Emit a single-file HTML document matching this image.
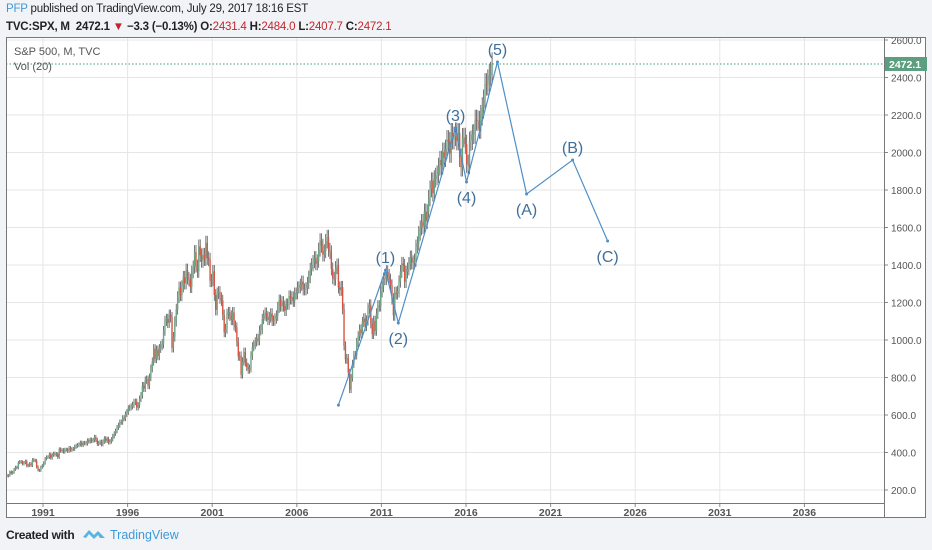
<!DOCTYPE html>
<html><head><meta charset="utf-8">
<style>
body{margin:0;width:932px;height:550px;background:#f1f3f7;font-family:"Liberation Sans",sans-serif;overflow:hidden;position:relative}
.t{position:absolute;white-space:nowrap}
</style></head><body>
<div class="t" style="left:6px;top:3px;font-size:11.5px;letter-spacing:-0.2px;color:#222"><span style="color:#3d9ad8">PFP</span> published on TradingView.com, July 29, 2017 18:16 EST</div>
<div class="t" style="left:6px;top:21px;font-size:11.5px;letter-spacing:-0.2px;color:#222;font-weight:bold">TVC:SPX, M&nbsp; 2472.1 <span style="color:#c0262b">▼</span> −3.3 (−0.13%) O:<span style="color:#c0262b;font-weight:normal">2431.4</span> H:<span style="color:#c0262b;font-weight:normal">2484.0</span> L:<span style="color:#c0262b;font-weight:normal">2407.7</span> C:<span style="color:#c0262b;font-weight:normal">2472.1</span></div>
<svg id="c" width="932" height="550" style="position:absolute;left:0;top:0"></svg>
<div class="t" style="left:6px;top:528px;font-size:12px;letter-spacing:-0.3px;font-weight:bold;color:#222">Created with</div>
<svg style="position:absolute;left:82px;top:527px" width="24" height="14"><path d="M1 10 L7 3 L12 8 L16 4 L23 11 L18 11 L16 8 L12 12 L7 7 L4 11Z" fill="#5ab4e0"/></svg>
<div class="t" style="left:110px;top:528px;font-size:12.5px;color:#3d9ad8">TradingView</div>
<script>
const closes=[279,274,278,
297,289,295,310,321,318,346,351,349,340,346,353,
329,332,340,331,361,358,356,323,306,304,322,330,
344,367,375,375,390,371,387,395,388,392,375,417,
409,413,404,415,415,408,424,414,418,419,431,436,
439,443,452,440,450,451,448,464,459,468,462,466,
482,467,446,451,457,444,458,475,463,472,454,459,
470,487,501,515,533,545,562,562,584,582,605,616,
636,640,646,654,669,671,640,652,687,705,757,741,
786,791,757,801,848,885,954,899,947,915,955,970,
980,1049,1102,1112,1091,1134,1121,957,1017,1099,1164,1229,
1280,1238,1286,1335,1302,1373,1329,1320,1283,1363,1389,1469,
1394,1366,1499,1452,1421,1455,1431,1518,1437,1429,1315,1320,
1366,1240,1160,1249,1256,1224,1211,1134,1041,1060,1139,1148,
1130,1107,1147,1077,1067,990,912,916,815,886,936,880,
856,841,848,917,964,975,990,1008,996,1051,1058,1112,
1131,1145,1126,1107,1121,1141,1102,1104,1115,1130,1174,1212,
1181,1204,1181,1157,1192,1191,1234,1220,1229,1207,1249,1248,
1280,1281,1295,1311,1270,1270,1277,1304,1336,1378,1401,1418,
1438,1407,1421,1482,1531,1503,1455,1474,1527,1549,1481,1468,
1379,1331,1323,1386,1400,1280,1267,1283,1166,969,896,903,
826,735,798,873,919,919,987,1021,1057,1036,1096,1115,
1074,1104,1169,1187,1089,1031,1102,1049,1141,1183,1181,1258,
1286,1327,1326,1364,1345,1321,1292,1219,1131,1253,1247,1258,
1312,1366,1408,1398,1310,1362,1379,1407,1441,1412,1416,1426,
1498,1515,1569,1598,1631,1606,1686,1633,1682,1757,1806,1848,
1783,1859,1872,1884,1924,1960,1931,2003,1972,2018,2068,2059,
1995,2105,2068,2086,2107,2063,2104,1972,1920,2079,2080,2044,
1940,1932,2060,2065,2097,2099,2174,2171,2168,2126,2199,2239,
2279,2364,2363,2384,2412,2423,2472];
const startYear=1988+9/12;
const waveLabels=["","(1)","(2)","(3)","(4)","(5)","(A)","(B)","(C)"];
const waveYears=[2008.46,2011.24,2012.0,2015.38,2016.03,2017.86,2019.58,2022.3,2024.37];
const wavePrices=[653,1373,1091,2131,1843,2483,1779,1960,1528];
const waveLabelPos=["","above","below","above","below","above","below","above","below"];
const yTicks=[200,400,600,800,1000,1200,1400,1600,1800,2000,2200,2400,2600];
const xTicks=[1991,1996,2001,2006,2011,2016,2021,2026,2031,2036];
const lastPrice=2472.1;

const X=y=>43+(y-1991)*16.92;
const Y=p=>490-(p-200)*0.1875;
const svg=document.getElementById('c');
const NS='http://www.w3.org/2000/svg';
function mk(tag,attrs,parent){const e=document.createElementNS(NS,tag);for(const k in attrs)e.setAttribute(k,attrs[k]);(parent||svg).appendChild(e);return e;}

const bg=mk('rect',{x:6,y:37,width:920,height:481,fill:'#fff'});


const clip=mk('clipPath',{id:'cl'});mk('rect',{x:6,y:37,width:878,height:466},clip);
const g=mk('g',{'clip-path':'url(#cl)'});


yTicks.forEach(v=>{
  const l=mk('line',{x1:6,x2:884,y1:Y(v),y2:Y(v),stroke:'#e6e6e6'},g);
  
  
  const tk=mk('line',{x1:884,x2:888,y1:Y(v),y2:Y(v),stroke:'#888'});
  
  
  const t=mk('text',{x:891,y:Y(v)+4,'font-size':10,fill:'#555'});t.textContent=v.toFixed(1);
  
  
});
xTicks.forEach(v=>{
  const l=mk('line',{x1:X(v),x2:X(v),y1:37,y2:503,stroke:'#e6e6e6'},g);
  
  
  const tk=mk('line',{x1:X(v),x2:X(v),y1:503,y2:507,stroke:'#888'});
  
  
  const t=mk('text',{x:X(v),y:516,'font-size':10.5,fill:'#555','text-anchor':'middle','font-weight':'bold'});t.textContent=v;
  
  
});
let prev=closes[0]*0.99;
closes.forEach((c,i)=>{
  const o=prev;prev=c;
  const yr=startYear+(i+0.5)/12;const x=X(yr);
  const hi=Math.max(o,c)*1.025,lo=Math.min(o,c)*0.975;
  const w=mk('line',{x1:x,x2:x,y1:Y(hi),y2:Y(lo),stroke:'#555','stroke-width':0.8},g);
  
  
  const top=Y(Math.max(o,c)),bot=Y(Math.min(o,c));
  const b=mk('rect',{x:x-0.7,y:top,width:1.4,height:Math.max(bot-top,0.6),fill:c>=o?'#6ba583':'#d75442'},g);
  
  
});
const pl=mk('line',{x1:6,x2:884,y1:Y(lastPrice),y2:Y(lastPrice),stroke:'#4a9a7a','stroke-dasharray':'1.5,2','stroke-width':1},g);


const pts=waveYears.map((y,i)=>[X(y),Y(wavePrices[i])]);
const wl=mk('polyline',{points:pts.map(p=>p.join(',')).join(' '),fill:'none',stroke:'#4f8fc9','stroke-width':1.2},g);


pts.forEach((p,i)=>{
  const d=mk('circle',{cx:p[0],cy:p[1],r:1.5,fill:'#4f8fc9'},g);
  
  
  if(!waveLabels[i])return;
  const t=mk('text',{x:p[0],y:waveLabelPos[i]=='above'?p[1]-7:p[1]+21,'font-size':16,fill:'#3f6f9a','text-anchor':'middle'},g);
  t.textContent=waveLabels[i];
  
  
});
const frame=mk('rect',{x:6.5,y:37.5,width:919,height:480,fill:'none',stroke:'#777'});


const ya=mk('line',{x1:884.5,x2:884.5,y1:37,y2:518,stroke:'#777'});


const xa=mk('line',{x1:6,x2:884,y1:503.5,y2:503.5,stroke:'#777'});


const lb=mk('rect',{x:885,y:Y(lastPrice)-7,width:42,height:14,fill:'#5c9f80'});


const lt=mk('text',{x:889,y:Y(lastPrice)+4,'font-size':10.5,fill:'#fff','font-weight':'bold'});lt.textContent=lastPrice.toFixed(1);


const ti=mk('text',{x:14,y:55,'font-size':11,fill:'#555'});ti.textContent='S&P 500, M, TVC';


const vo=mk('text',{x:14,y:70,'font-size':11,fill:'#555'});vo.textContent='Vol (20)';


</script>
</body></html>
